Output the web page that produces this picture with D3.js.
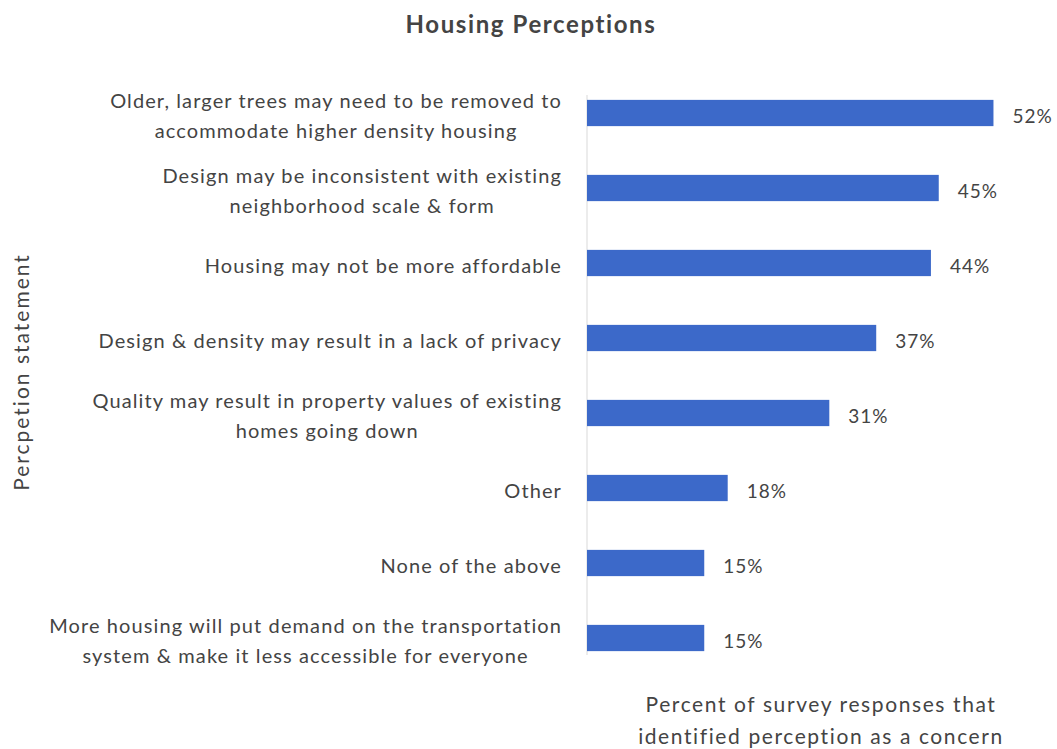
<!DOCTYPE html>
<html>
<head>
<meta charset="utf-8">
<script src="https://cdn.jsdelivr.net/npm/d3@7"></script>
<style>
  html, body { margin: 0; padding: 0; background: #ffffff; }
  svg { display: block; font-family: Lato, "Open Sans", sans-serif; }
</style>
</head>
<body>
<svg id="chart" width="1057" height="749"></svg>
<script>
// Survey statements (line breaks mark how each label wraps)
const categories = [
  "Older, larger trees may need to be removed to\naccommodate higher density housing",
  "Design may be inconsistent with existing\nneighborhood scale & form",
  "Housing may not be more affordable",
  "Design & density may result in a lack of privacy",
  "Quality may result in property values of existing\nhomes going down",
  "Other",
  "None of the above",
  "More housing will put demand on the transportation\nsystem & make it less accessible for everyone"
];
// Share of responses naming each statement as a concern (%)
const values = [52, 45, 44, 37, 31, 18, 15, 15];

const chartTitle = "Housing Perceptions";
const yTitle = "Percpetion statement";
const xTitle = ["Percent of survey responses that", "identified perception as a concern"];

const svg = d3.select("#chart");
const textColor = "#444444";
const barColor = "#3c69c9";

const plot = { left: 587, top: 75.5, bottom: 675.5 };

const x = d3.scaleLinear().domain([0, 60]).range([plot.left, plot.left + 469]);
const y = d3.scaleBand().domain(categories).range([plot.top, plot.bottom]).paddingInner(0.65).paddingOuter(0.325);

// Title
svg.append("text")
  .attr("x", 531).attr("y", 33)
  .attr("text-anchor", "middle")
  .attr("font-size", 24).attr("font-weight", 700)
  .attr("letter-spacing", 1.6)
  .attr("fill", textColor)
  .text(chartTitle);

// Vertical category axis line
svg.append("line")
  .attr("x1", x(0)).attr("x2", x(0))
  .attr("y1", 95).attr("y2", 655)
  .attr("stroke", "#d9d9d9").attr("stroke-width", 1);

// Bars
svg.append("g").selectAll("rect")
  .data(values)
  .join("rect")
  .attr("x", x(0))
  .attr("y", (d, i) => y(categories[i]))
  .attr("width", d => x(d) - x(0))
  .attr("height", y.bandwidth())
  .attr("fill", barColor);

// Value labels
svg.append("g").selectAll("text")
  .data(values)
  .join("text")
  .attr("x", d => x(d) + 19)
  .attr("y", (d, i) => y(categories[i]) + y.bandwidth() / 2)
  .attr("dy", "0.5em")
  .attr("font-size", 19)
  .attr("letter-spacing", 1)
  .attr("fill", textColor)
  .text(d => d + "%");

// Category labels: block right-aligned to the axis, lines centred within the block
const labelRight = 562;
const lineGap = 30;
const labelG = svg.append("g");
categories.forEach(cat => {
  const lines = cat.split("\n");
  const cy = y(cat) + y.bandwidth() / 2;
  const g = labelG.append("g");
  const texts = lines.map((ln, k) => g.append("text")
    .attr("y", cy + (k - (lines.length - 1) / 2) * lineGap)
    .attr("dy", "0.5em")
    .attr("font-size", 20)
    .attr("letter-spacing", 1.1)
    .attr("fill", textColor)
    .attr("text-anchor", "middle")
    .text(ln));
  const maxW = d3.max(texts, t => t.node().getComputedTextLength());
  texts.forEach(t => t.attr("x", labelRight - maxW / 2));
});

// Y-axis title
svg.append("text")
  .attr("transform", "translate(29,372) rotate(-90)")
  .attr("text-anchor", "middle")
  .attr("font-size", 21)
  .attr("letter-spacing", 2)
  .attr("fill", textColor)
  .text(yTitle);

// X-axis title
svg.append("g").selectAll("text")
  .data(xTitle)
  .join("text")
  .attr("x", 821)
  .attr("y", (d, i) => 712 + i * 32)
  .attr("text-anchor", "middle")
  .attr("font-size", 21)
  .attr("letter-spacing", 1.6)
  .attr("fill", textColor)
  .text(d => d);
</script>
</body>
</html>
